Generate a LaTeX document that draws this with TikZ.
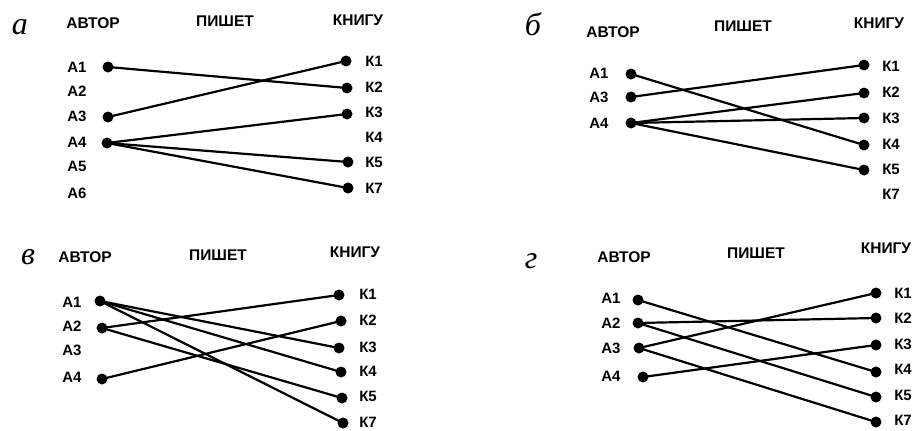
\documentclass[tikz,border=0pt]{standalone}
\usepackage{fontspec}
\setmainfont{Liberation Sans}
\newfontfamily\serifit{Liberation Serif}
\begin{document}
\begin{tikzpicture}[x=1pt,y=-1pt,
  lbl/.style={font=\fontsize{15}{15}\selectfont\bfseries, inner sep=0pt},
  hdr/.style={font=\fontsize{15.5}{15.5}\selectfont\bfseries, inner sep=0pt},
  tag/.style={font=\fontsize{32}{32}\selectfont\serifit\itshape, inner sep=0pt},
  dot/.style={circle, fill=black, inner sep=0pt, minimum size=11pt},
  link/.style={line width=2.2pt}]
\useasboundingbox (0,0) rectangle (922,431);
% ---------- panel a ----------
\node[tag] (ta) at (20,27) {а};
\node[hdr] (ha1) at (93,23) {АВТОР};
\node[hdr] (ha2) at (225,21) {ПИШЕТ};
\node[hdr] (ha3) at (358,20) {КНИГУ};
\node[lbl] (aA1) at (77,67) {А1};
\node[lbl] (aA2) at (77,91) {А2};
\node[lbl] (aA3) at (77,116) {А3};
\node[lbl] (aA4) at (77,142) {А4};
\node[lbl] (aA5) at (77,166) {А5};
\node[lbl] (aA6) at (77,193) {А6};
\node[lbl] (aK1) at (374,61) {К1};
\node[lbl] (aK2) at (374,87) {К2};
\node[lbl] (aK3) at (374,112) {К3};
\node[lbl] (aK4) at (374,137) {К4};
\node[lbl] (aK5) at (374,162) {К5};
\node[lbl] (aK7) at (374,188) {К7};
\node[dot] (adA1) at (108,67) {};
\node[dot] (adA3) at (108,117) {};
\node[dot] (adA4) at (107,143) {};
\node[dot] (adK1) at (346,61) {};
\node[dot] (adK2) at (347,88) {};
\node[dot] (adK3) at (347,114) {};
\node[dot] (adK5) at (348,162) {};
\node[dot] (adK7) at (348,188) {};
\draw[link] (adA1.center) -- (adK2.center);
\draw[link] (adA3.center) -- (adK1.center);
\draw[link] (adA4.center) -- (adK3.center);
\draw[link] (adA4.center) -- (adK5.center);
\draw[link] (adA4.center) -- (adK7.center);
% ---------- panel b ----------
\node[tag] (tb) at (533,24) {б};
\node[hdr] (hb1) at (613,32) {АВТОР};
\node[hdr] (hb2) at (743,26) {ПИШЕТ};
\node[hdr] (hb3) at (879,23) {КНИГУ};
\node[lbl] (bA1) at (599,73) {А1};
\node[lbl] (bA3) at (599,97) {А3};
\node[lbl] (bA4) at (599,123) {А4};
\node[lbl] (bK1) at (891,66) {К1};
\node[lbl] (bK2) at (891,92) {К2};
\node[lbl] (bK3) at (891,118) {К3};
\node[lbl] (bK4) at (891,144) {К4};
\node[lbl] (bK5) at (891,169) {К5};
\node[lbl] (bK7) at (891,194) {К7};
\node[dot] (bdA1) at (631,74) {};
\node[dot] (bdA3) at (631,97) {};
\node[dot] (bdA4) at (631,123) {};
\node[dot] (bdK1) at (864,65) {};
\node[dot] (bdK2) at (864,93) {};
\node[dot] (bdK3) at (864,118) {};
\node[dot] (bdK4) at (864,145) {};
\node[dot] (bdK5) at (864,170) {};
\draw[link] (bdA1.center) -- (bdK4.center);
\draw[link] (bdA3.center) -- (bdK1.center);
\draw[link] (bdA4.center) -- (bdK2.center);
\draw[link] (bdA4.center) -- (bdK3.center);
\draw[link] (bdA4.center) -- (bdK5.center);
% ---------- panel v ----------
\node[tag] (tv) at (28,257) {в};
\node[hdr] (hv1) at (85,257) {АВТОР};
\node[hdr] (hv2) at (218,255) {ПИШЕТ};
\node[hdr] (hv3) at (355,252) {КНИГУ};
\node[lbl] (vA1) at (72,302) {А1};
\node[lbl] (vA2) at (72,326) {А2};
\node[lbl] (vA3) at (72,350) {А3};
\node[lbl] (vA4) at (72,377) {А4};
\node[lbl] (vK1) at (368,294) {К1};
\node[lbl] (vK2) at (368,320) {К2};
\node[lbl] (vK3) at (368,347) {К3};
\node[lbl] (vK4) at (368,371) {К4};
\node[lbl] (vK5) at (368,396) {К5};
\node[lbl] (vK7) at (368,422) {К7};
\node[dot] (vdA1) at (100,301) {};
\node[dot] (vdA2) at (102,328) {};
\node[dot] (vdA4) at (102,379) {};
\node[dot] (vdK1) at (339,295) {};
\node[dot] (vdK2) at (341,321) {};
\node[dot] (vdK3) at (339,348) {};
\node[dot] (vdK4) at (341,372) {};
\node[dot] (vdK5) at (342,398) {};
\node[dot] (vdK7) at (343,423) {};
\draw[link] (vdA1.center) -- (vdK3.center);
\draw[link] (vdA1.center) -- (vdK4.center);
\draw[link] (vdA1.center) -- (vdK7.center);
\draw[link] (vdA2.center) -- (vdK1.center);
\draw[link] (vdA2.center) -- (vdK5.center);
\draw[link] (vdA4.center) -- (vdK2.center);
% ---------- panel g ----------
\node[tag] (tg) at (531,261) {г};
\node[hdr] (hg1) at (624,257) {АВТОР};
\node[hdr] (hg2) at (756,253) {ПИШЕТ};
\node[hdr] (hg3) at (886,248) {КНИГУ};
\node[lbl] (gA1) at (611,298) {А1};
\node[lbl] (gA2) at (611,323) {А2};
\node[lbl] (gA3) at (611,348) {А3};
\node[lbl] (gA4) at (611,376) {А4};
\node[lbl] (gK1) at (903,293) {К1};
\node[lbl] (gK2) at (903,318) {К2};
\node[lbl] (gK3) at (903,344) {К3};
\node[lbl] (gK4) at (903,369) {К4};
\node[lbl] (gK5) at (903,395) {К5};
\node[lbl] (gK7) at (903,420) {К7};
\node[dot] (gdA1) at (638,300) {};
\node[dot] (gdA2) at (638,323) {};
\node[dot] (gdA3) at (639,348) {};
\node[dot] (gdA4) at (643,377) {};
\node[dot] (gdK1) at (876,293) {};
\node[dot] (gdK2) at (876,318) {};
\node[dot] (gdK3) at (876,345) {};
\node[dot] (gdK4) at (876,372) {};
\node[dot] (gdK5) at (876,397) {};
\node[dot] (gdK7) at (876,422) {};
\draw[link] (gdA1.center) -- (gdK4.center);
\draw[link] (gdA2.center) -- (gdK2.center);
\draw[link] (gdA2.center) -- (gdK5.center);
\draw[link] (gdA3.center) -- (gdK1.center);
\draw[link] (gdA3.center) -- (gdK7.center);
\draw[link] (gdA4.center) -- (gdK3.center);
\end{tikzpicture}
\end{document}
